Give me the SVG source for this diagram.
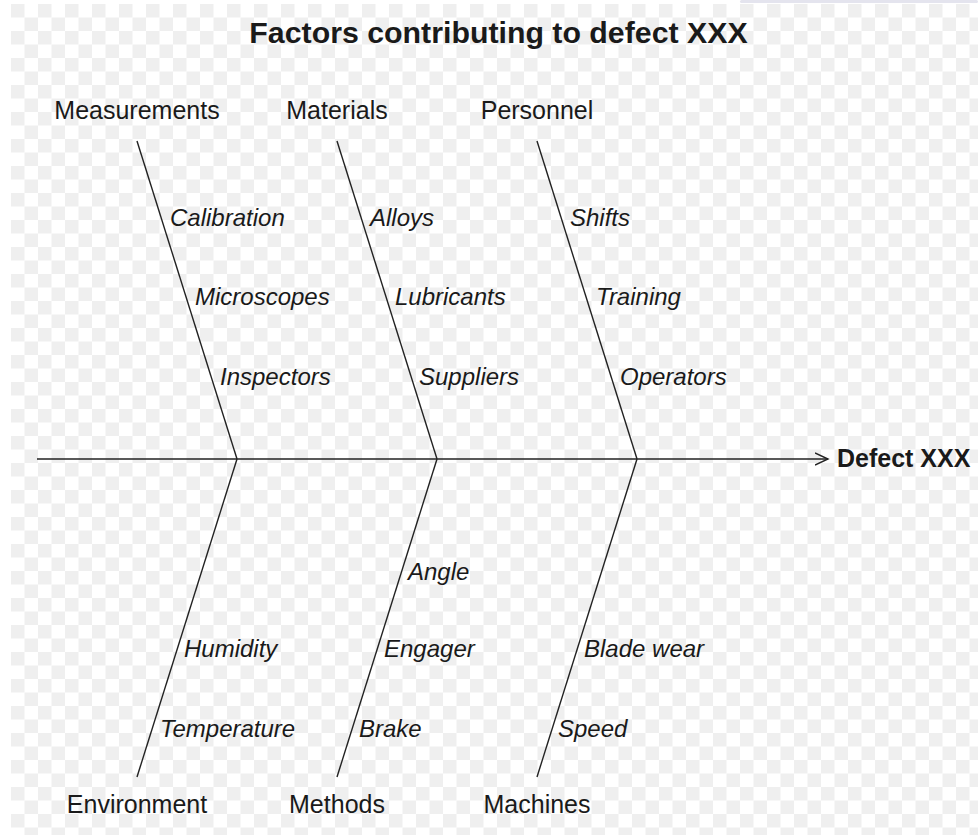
<svg xmlns="http://www.w3.org/2000/svg" width="978" height="837" viewBox="0 0 978 837">
<style>
.t{font-family:"Liberation Sans",Arial,sans-serif;fill:#1a1a1a}
.title{font-size:30.3px;font-weight:bold;text-anchor:middle}
.cat{font-size:25px;text-anchor:middle}
.sub{font-size:24px;font-style:italic}
.eff{font-size:25px;font-weight:bold}
.bone{stroke:#222;stroke-width:1.4;fill:none}
</style>
<defs>
<pattern id="chk" patternUnits="userSpaceOnUse" x="11" y="4" width="27" height="27">
<rect width="27" height="27" fill="#ffffff"/>
<rect width="13.5" height="13.5" fill="#efefef"/>
<rect x="13.5" y="13.5" width="13.5" height="13.5" fill="#efefef"/>
</pattern>
<marker id="arr" markerWidth="16" markerHeight="16" refX="13" refY="7" orient="auto" markerUnits="userSpaceOnUse">
<path d="M0,1 L13,7 L0,13" fill="none" stroke="#222" stroke-width="1.4"/>
</marker>
</defs>
<rect width="978" height="837" fill="#ffffff"/>
<rect x="11" y="4" width="967" height="831" fill="url(#chk)"/>
<rect x="740" y="0" width="238" height="3" rx="1.5" fill="#e4e4ee"/>

<text id="title" class="t title" x="498.5" y="43">Factors contributing to defect XXX</text>

<g id="connectors">
<line class="bone" x1="37" y1="459" x2="828" y2="459" marker-end="url(#arr)"/>
<line class="bone" x1="137" y1="141" x2="237" y2="459"/>
<line class="bone" x1="337" y1="141" x2="437" y2="459"/>
<line class="bone" x1="537" y1="141" x2="637" y2="459"/>
<line class="bone" x1="237" y1="459" x2="137" y2="777"/>
<line class="bone" x1="437" y1="459" x2="337" y2="777"/>
<line class="bone" x1="637" y1="459" x2="537" y2="777"/>
</g>

<g id="effect"><text class="t eff" x="837" y="467">Defect XXX</text></g>

<g id="measurements">
<text class="t cat" x="137" y="119">Measurements</text>
<text class="t sub" x="170" y="226">Calibration</text>
<text class="t sub" x="195" y="305">Microscopes</text>
<text class="t sub" x="220" y="385">Inspectors</text>
</g>
<g id="materials">
<text class="t cat" x="337" y="119">Materials</text>
<text class="t sub" x="370" y="226">Alloys</text>
<text class="t sub" x="395" y="305">Lubricants</text>
<text class="t sub" x="419" y="385">Suppliers</text>
</g>
<g id="personnel">
<text class="t cat" x="537" y="119">Personnel</text>
<text class="t sub" x="570" y="226">Shifts</text>
<text class="t sub" x="596" y="305">Training</text>
<text class="t sub" x="620" y="385">Operators</text>
</g>
<g id="environment">
<text class="t cat" x="137" y="813">Environment</text>
<text class="t sub" x="184" y="657">Humidity</text>
<text class="t sub" x="160" y="737">Temperature</text>
</g>
<g id="methods">
<text class="t cat" x="337" y="813">Methods</text>
<text class="t sub" x="408" y="580">Angle</text>
<text class="t sub" x="384" y="657">Engager</text>
<text class="t sub" x="359" y="737">Brake</text>
</g>
<g id="machines">
<text class="t cat" x="537" y="813">Machines</text>
<text class="t sub" x="584" y="657">Blade wear</text>
<text class="t sub" x="558" y="737">Speed</text>
</g>
</svg>
